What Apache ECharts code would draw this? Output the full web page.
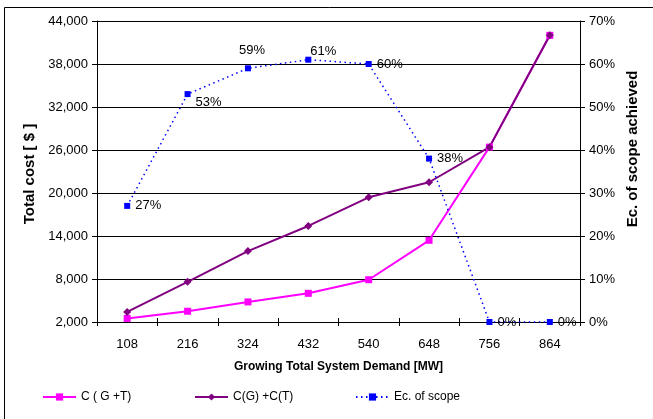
<!DOCTYPE html>
<html>
<head>
<meta charset="utf-8">
<script src="https://cdn.jsdelivr.net/npm/echarts@6/dist/echarts.min.js"></script>
<style>
  html, body { margin: 0; padding: 0; background: #fff; }
  #chart { width: 653px; height: 419px; }
</style>
</head>
<body>
<div id="chart"></div>
<script>
// System demand steps [MW]
const demand = ['108', '216', '324', '432', '540', '648', '756', '864'];
// Total cost of the joint G+T plan [$]
const costJoint = [2500, 3500, 4800, 6000, 7900, 13400, 26400, 42000];
// Sum of separate G and T costs [$]
const costSeparate = [3400, 7600, 11900, 15400, 19400, 21500, 26400, 42000];
// Economies of scope achieved [%]
const scopeAchieved = [27, 53, 59, 61, 60, 38, 0, 0];
// Axis ranges
const costAxis = { min: 2000, max: 44000, step: 6000 };
const scopeAxis = { min: 0, max: 70, step: 10 };

const FONT = "'Liberation Sans', Arial, sans-serif";

// where each percentage label sits relative to its marker
const scopeLabelPlacement = [
  { position: 'right' },
  { position: 'right', offset: [0, 8] },
  { position: 'top', offset: [4, -3] },
  { position: 'top', offset: [15, 6] },
  { position: 'right' },
  { position: 'right' },
  { position: 'right' },
  { position: 'right' }
];

const chart = echarts.init(document.getElementById('chart'), null, { renderer: 'canvas' });

const legendBase = {
  top: 391,
  padding: 0,
  itemWidth: 33,
  itemHeight: 9,
  textStyle: { fontFamily: FONT, fontSize: 12, color: '#000' },
  itemGap: 0
};

chart.setOption({
  animation: false,
  backgroundColor: '#fff',
  textStyle: { fontFamily: FONT },
  grid: { left: 97, right: 73, top: 21, bottom: 97, containLabel: false },
  legend: [
    Object.assign({ left: 42, data: ['C ( G +T)'] }, legendBase),
    Object.assign({ left: 194, data: ['C(G) +C(T)'] }, legendBase),
    Object.assign({ left: 355, data: ['Ec. of scope'] }, legendBase)
  ],
  xAxis: [
    {
      type: 'category',
      data: demand,
      boundaryGap: true,
      axisLine: { lineStyle: { color: '#000', width: 1 } },
      axisTick: { show: true, length: 4, lineStyle: { color: '#000' } },
      axisLabel: { color: '#000', fontSize: 13, margin: 16, fontFamily: FONT },
      name: 'Growing Total System Demand [MW]',
      nameLocation: 'middle',
      nameGap: 39,
      nameTextStyle: { fontWeight: 'bold', fontSize: 12, color: '#000', fontFamily: FONT }
    },
    {
      // inner half of the category ticks, drawn upward from the bottom edge
      type: 'category',
      data: demand,
      position: 'top',
      offset: -301,
      boundaryGap: true,
      axisLine: { show: false },
      axisTick: { show: true, length: 4, lineStyle: { color: '#000' } },
      axisLabel: { show: false }
    }
  ],
  yAxis: [
    {
      type: 'value',
      min: costAxis.min,
      max: costAxis.max,
      interval: costAxis.step,
      axisLine: { show: true, lineStyle: { color: '#000', width: 1 } },
      axisTick: { show: true, length: 5, lineStyle: { color: '#000' } },
      axisLabel: {
        color: '#000', fontSize: 13, margin: 9, fontFamily: FONT,
        formatter: v => v.toLocaleString('en-US')
      },
      splitLine: { show: true, lineStyle: { color: '#000', width: 1 } }
    },
    {
      type: 'value',
      min: scopeAxis.min,
      max: scopeAxis.max,
      interval: scopeAxis.step,
      position: 'right',
      axisLine: { show: true, lineStyle: { color: '#000', width: 1 } },
      axisTick: { show: true, length: 5, lineStyle: { color: '#000' } },
      axisLabel: { color: '#000', fontSize: 13, margin: 9, fontFamily: FONT, formatter: '{value}%' },
      splitLine: { show: false }
    }
  ],
  graphic: [
    {
      type: 'rect',
      shape: { x: 4.5, y: 7.5, width: 720, height: 500 },
      style: { fill: 'none', stroke: '#000', lineWidth: 1 },
      silent: true
    },
    {
      type: 'text',
      x: 30, y: 174,
      rotation: Math.PI / 2,
      style: {
        text: 'Total cost [ $ ]',
        font: "bold 15px " + FONT,
        fill: '#000',
        align: 'center',
        verticalAlign: 'middle'
      }
    },
    {
      type: 'text',
      x: 633, y: 149,
      rotation: Math.PI / 2,
      style: {
        text: 'Ec. of scope achieved',
        font: "bold 15px " + FONT,
        fill: '#000',
        align: 'center',
        verticalAlign: 'middle'
      }
    }
  ],
  series: [
    {
      name: 'C ( G +T)',
      type: 'line',
      data: costJoint,
      symbol: 'rect',
      symbolSize: 7,
      lineStyle: { color: '#FF00FF', width: 2 },
      itemStyle: { color: '#FF00FF' }
    },
    {
      name: 'C(G) +C(T)',
      type: 'line',
      data: costSeparate,
      symbol: 'diamond',
      symbolSize: 8,
      lineStyle: { color: '#800080', width: 2 },
      itemStyle: { color: '#800080' }
    },
    {
      name: 'Ec. of scope',
      type: 'line',
      yAxisIndex: 1,
      data: scopeAchieved.map((v, i) => ({ value: v, label: scopeLabelPlacement[i] })),
      symbol: 'rect',
      symbolSize: 6,
      lineStyle: { color: '#0000FF', width: 1.5, type: [1.5, 3.5] },
      itemStyle: { color: '#0000FF' },
      label: {
        show: true,
        position: 'right',
        distance: 5,
        color: '#000',
        fontSize: 13,
        fontFamily: FONT,
        formatter: p => p.value + '%'
      }
    }
  ]
});
</script>
</body>
</html>
